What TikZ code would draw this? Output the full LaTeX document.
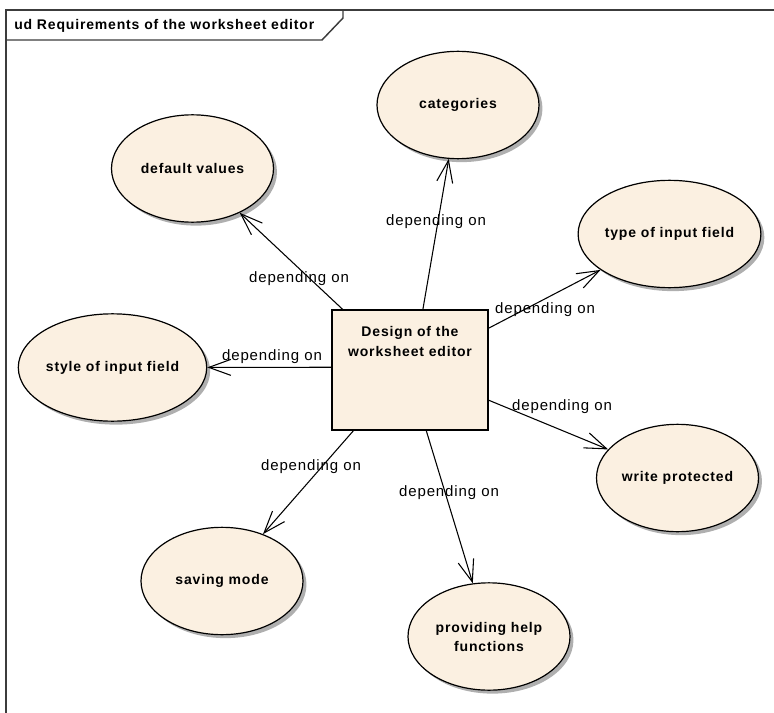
\documentclass[tikz,border=0pt]{standalone}
\usepackage{fontspec}
\setmainfont{Liberation Sans}[LetterSpace=6.0]
\usetikzlibrary{arrows.meta,shapes.geometric,shadows,calc}

\definecolor{ucfill}{RGB}{251,240,225}
\definecolor{framegray}{RGB}{60,60,60}

\tikzset{
  usecase/.style={ellipse, draw=black, line width=0.9pt, fill=ucfill,
    minimum width=121.5pt, minimum height=80.5pt, inner sep=0pt,
    align=center, font=\bfseries\fontsize{10.5}{14.25}\selectfont,
    drop shadow={shadow xshift=2.6pt, shadow yshift=-2.6pt, fill=black!35, opacity=0.9}},
  classbox/.style={rectangle, draw=black, line width=0.9pt, fill=ucfill,
    minimum width=117pt, minimum height=90pt, inner sep=0pt},
  boxtext/.style={inner sep=0pt, align=center,
    font=\bfseries\fontsize{10.5}{15}\selectfont},
  dep/.style={draw=black, line width=0.8pt,
    -{Straight Barb[length=16.5pt,width=12pt,line width=0.8pt]}},
  deplabel/.style={inner sep=0pt, font=\fontsize{11.25}{13}\selectfont},
  frameline/.style={draw=framegray, line width=1.1pt},
}

\begin{document}
\begin{tikzpicture}[x=0.75pt,y=-0.75pt]
  \useasboundingbox (0,0) rectangle (774,713);

  % diagram frame with its name tab
  \draw[frameline] (774,10) -- (6,10) -- (6,713);
  \draw[frameline] (6,40) -- (322,40) -- (343,18) -- (343,10);
  \node[anchor=west, inner sep=0pt, font=\bfseries\fontsize{10.5}{12}\selectfont]
    (frametitle) at (14,26) {ud Requirements of the worksheet editor};

  % central class
  \node[classbox] (box) at (410,370) {};
  \node[boxtext, anchor=north] (boxtitle) at (410,326) {Design of the\\worksheet editor};

  % use cases
  \node[usecase] (cat)   at (458,105)   {categories};
  \node[usecase] (dv)    at (192.5,168.5) {default values};
  \node[usecase] (type)  at (669.5,234) {type of input field};
  \node[usecase] (style) at (112.5,367.5) {style of input field};
  \node[usecase] (write) at (677.5,478) {write protected};
  \node[usecase] (save)  at (222,581)   {saving mode};
  \node[usecase] (help)  at (489,636.5) {providing help\\functions};

  % dependencies
  \draw[dep] (box.78.7)  -- (cat);
  \draw[dep] (box.138)   -- (dv);
  \draw[dep] (box.28.3)  -- (type);
  \draw[dep] (box.178.5) -- (style);
  \draw[dep] (box.-21)   -- (write);
  \draw[dep] (box.-133)  -- (save);
  \draw[dep] (box.-75)   -- (help);

  % dependency labels
  \node[deplabel] (lcat)   at (436,222) {depending on};
  \node[deplabel] (ldv)    at (299,279) {depending on};
  \node[deplabel] (ltype)  at (545,310) {depending on};
  \node[deplabel] (lstyle) at (272,357) {depending on};
  \node[deplabel] (lwrite) at (562,407) {depending on};
  \node[deplabel] (lsave)  at (311,467) {depending on};
  \node[deplabel] (lhelp)  at (449,493) {depending on};
\end{tikzpicture}
\end{document}
